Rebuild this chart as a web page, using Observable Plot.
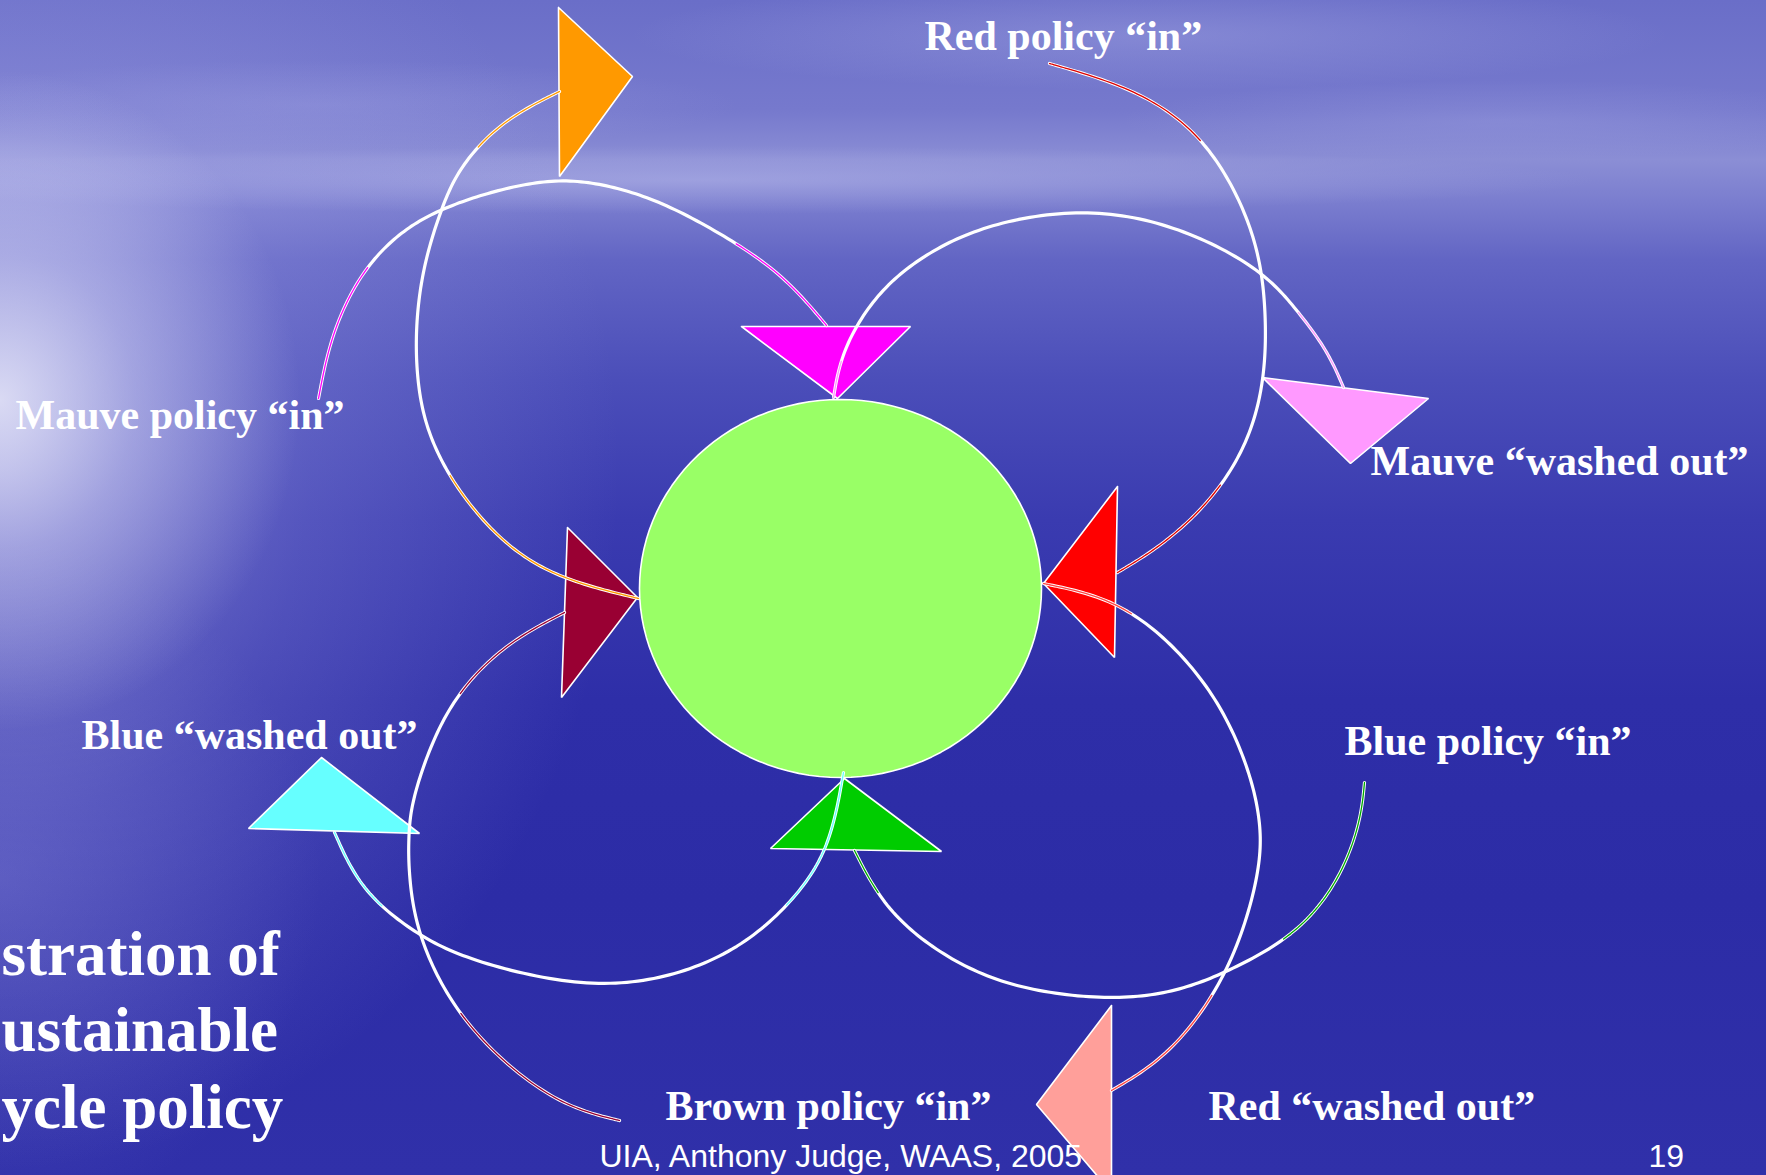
<!DOCTYPE html>
<html>
<head>
<meta charset="utf-8">
<script src="https://cdn.jsdelivr.net/npm/d3@7"></script>
<script src="https://cdn.jsdelivr.net/npm/@observablehq/plot@0.6"></script>
<style>
html, body { margin: 0; padding: 0; overflow: hidden; background: #2d2da7; }
#chart {
  width: 1766px; height: 1175px; position: relative;
  background:
    radial-gradient(ellipse 300px 330px at 0px 400px, rgba(248,248,255,0.75) 0%, rgba(225,225,250,0.42) 45%, rgba(190,190,240,0) 100%),
    radial-gradient(ellipse 620px 700px at 0px 470px, rgba(195,195,242,0.50) 0%, rgba(165,165,232,0.25) 50%, rgba(140,140,220,0) 100%),
    radial-gradient(ellipse 320px 340px at 0px 880px, rgba(120,120,210,0.40) 0%, rgba(120,120,210,0) 100%),
    radial-gradient(ellipse 900px 34px at 700px 180px, rgba(190,192,238,0.45) 0%, rgba(190,192,238,0) 100%),
    radial-gradient(ellipse 520px 55px at 1150px 35px, rgba(175,178,232,0.35) 0%, rgba(175,178,232,0) 100%),
    radial-gradient(ellipse 420px 45px at 320px 105px, rgba(165,168,228,0.30) 0%, rgba(165,168,228,0) 100%),
    radial-gradient(ellipse 380px 40px at 1500px 120px, rgba(165,168,228,0.28) 0%, rgba(165,168,228,0) 100%),
    linear-gradient(180deg, #6a6ec8 0px, #7679cd 110px, #8b8ed5 160px, #7b7ecf 200px, #6265c4 260px, #4b4eb9 380px, #3a3bb0 520px, #2e2ea8 700px, #2c2ca6 900px, #3030a9 1175px);
}
#chart svg { display: block; }
</style>
</head>
<body>
<div id="chart"></div>
<script>
// ---- Curves: guide points (slide pixel space) ----
const arcMauveIn  = [[318,398],[330,335],[359,273],[398,232],[440,208],[497,189],[559,177],[617,186],[675,207],[754,253],[794,287],[826,325]];
const arcOrange   = [[559,91],[501,120],[458,167],[440,210],[422,267],[414,333],[418,400],[434,450],[464,500],[510,550],[564,580],[638,598]];
const arcBrownIn  = [[619,1120],[566,1107],[507,1067],[451,1007],[416,933],[408,873],[408,835],[411,800],[434,733],[464,683],[510,640],[564,612]];
const arcCyan     = [[334,832],[360,890],[414,933],[467,960],[578,987],[665,980],[744,947],[803,890],[831,840],[843,772]];
const arcBlueIn   = [[854,850],[883,907],[937,953],[1007,987],[1103,1000],[1173,993],[1231,970],[1298,933],[1339,880],[1360,823],[1364,782]];
const arcRedOut   = [[1043,583],[1110,597],[1167,637],[1217,697],[1247,763],[1261,820],[1260,873],[1231,970],[1173,1053],[1111,1090]];
const arcRedIn    = [[1049,63],[1132,87],[1194,127],[1235,187],[1260,253],[1266,320],[1264,377],[1252,430],[1226,480],[1188,523],[1149,553],[1117,572]];
const arcMauveOut = [[833,397],[841,350],[875,293],[924,253],[987,223],[1082,207],[1173,223],[1260,267],[1297,310],[1327,350],[1343,387]];

const arcList  = [arcMauveIn, arcOrange, arcBrownIn, arcCyan, arcBlueIn, arcRedOut, arcRedIn, arcMauveOut];
const arcTint  = ["#ff00ff", "#ff9900", "#990033", "#66ffff", "#00aa00", "#ff4444", "#dd0000", "#ff99ff"];
const arcHead  = [0.25, 0.20, 0.30, 0.22, 0.15, 0.22, 0.25, 0.15];
const arcTail  = [0.25, 0.35, 0.25, 0.30, 0.35, 0.25, 0.30, 0.25];

// ---- Triangles ----
const triOrange  = [[558,7],[632,76],[559,176]];
const triMagenta = [[741,326],[910,326],[837,398]];
const triPink    = [[1262,377],[1428,398],[1350,463]];
const triRed     = [[1117,486],[1043,583],[1114,657]];
const triMaroon  = [[567,527],[637,597],[561,697]];
const triCyan    = [[321,757],[419,833],[248,828]];
const triGreen   = [[844,778],[941,851],[770,848]];
const triSalmon  = [[1111,1005],[1036,1104],[1111,1192]];
const triList  = [triOrange, triMagenta, triPink, triRed, triMaroon, triCyan, triGreen, triSalmon];
const triFill  = ["#ff9900", "#ff00ff", "#ff99ff", "#ff0000", "#990033", "#66ffff", "#00cc00", "#ff9f9a"];

// ---- Central ellipse ----
const hubCenter = [840, 588];
const hubRadii  = [201, 189];
const hubFill   = "#99ff66";

// ---- Labels ----
const labelText = ["Red policy \u201Cin\u201D", "Mauve policy \u201Cin\u201D", "Mauve \u201Cwashed out\u201D", "Blue \u201Cwashed out\u201D", "Blue policy \u201Cin\u201D", "Brown policy \u201Cin\u201D", "Red \u201Cwashed out\u201D"];
const labelX    = [924, 15, 1370, 81, 1344, 665, 1208];
const labelY    = [49, 428, 474, 748, 754, 1119, 1119];

const titleLines = ["stration of", "ustainable", "ycle policy"];
const titleX     = [1, 1, 1];
const titleBase  = [974, 1050, 1127];

const footerText = ["UIA, Anthony Judge, WAAS, 2005", "19"];
const footerX    = [599, 1648];
const footerY    = [1166, 1166];

// ---- Smooth each guide polyline with a clamped uniform cubic B-spline ----
function bspline(pts, perSeg = 16) {
  const c = [pts[0], pts[0], ...pts, pts[pts.length - 1], pts[pts.length - 1]];
  const out = [];
  for (let i = 0; i + 3 < c.length; i++) {
    const [p0, p1, p2, p3] = [c[i], c[i + 1], c[i + 2], c[i + 3]];
    for (let k = 0; k < perSeg; k++) {
      const t = k / perSeg, t2 = t * t, t3 = t2 * t;
      const b0 = (1 - t) ** 3 / 6, b1 = (3 * t3 - 6 * t2 + 4) / 6, b2 = (-3 * t3 + 3 * t2 + 3 * t + 1) / 6, b3 = t3 / 6;
      out.push([b0 * p0[0] + b1 * p1[0] + b2 * p2[0] + b3 * p3[0], b0 * p0[1] + b1 * p1[1] + b2 * p2[1] + b3 * p3[1]]);
    }
  }
  out.push(pts[pts.length - 1]);
  return out;
}

const smooth = arcList.map(p => bspline(p));
const arcRows = smooth.flatMap((pts, i) => pts.map(([x, y]) => ({id: "arc" + i, x, y})));
const tintRows = smooth.flatMap((pts, i) => {
  const n = pts.length;
  const h = Math.round(n * arcHead[i]), t = Math.round(n * arcTail[i]);
  const head = pts.slice(0, h).map(([x, y]) => ({id: "h" + i, x, y, c: arcTint[i]}));
  const tail = pts.slice(n - t).map(([x, y]) => ({id: "t" + i, x, y, c: arcTint[i]}));
  return head.concat(tail);
});
const triRows = triList.flatMap((pts, i) => pts.concat([pts[0]]).map(([x, y]) => ({id: "tri" + i, x, y})));
const hubRows = d3.range(0, 121).map(k => {
  const a = (k / 120) * 2 * Math.PI;
  return {x: hubCenter[0] + hubRadii[0] * Math.cos(a), y: hubCenter[1] + hubRadii[1] * Math.sin(a)};
});
const labelRows = labelText.map((t, i) => ({t, x: labelX[i], y: labelY[i]}));
const titleRows = titleLines.map((t, i) => ({t, x: titleX[i], y: titleBase[i]}));
const footerRows = footerText.map((t, i) => ({t, x: footerX[i], y: footerY[i]}));

const serif = "'Liberation Serif', 'Times New Roman', serif";

const plot = Plot.plot({
  width: 1766,
  height: 1175,
  margin: 0,
  style: {background: "transparent"},
  x: {domain: [0, 1766], range: [0, 1766], axis: null},
  y: {domain: [0, 1175], range: [0, 1175], axis: null},
  color: {type: "identity"},
  marks: [
    ...triList.map((pts, i) => Plot.line(triRows.filter(d => d.id === "tri" + i), {
      x: "x", y: "y", fill: triFill[i], stroke: "white", strokeWidth: 1.6, strokeLinejoin: "miter"
    })),
    Plot.line(hubRows, {x: "x", y: "y", fill: hubFill, stroke: "white", strokeWidth: 1.6}),
    Plot.line(arcRows, {x: "x", y: "y", z: "id", stroke: "white", strokeWidth: 3.2}),
    Plot.line(tintRows, {x: "x", y: "y", z: "id", stroke: "c", strokeWidth: 1.3}),
    Plot.text(labelRows, {x: "x", y: "y", text: "t", textAnchor: "start", lineAnchor: "bottom",
      fill: "white", fontSize: 42, fontWeight: "bold", fontFamily: serif}),
    Plot.text(titleRows, {x: "x", y: "y", text: "t", textAnchor: "start", lineAnchor: "bottom",
      fill: "white", fontSize: 63, fontWeight: "bold", fontFamily: serif}),
    Plot.text(footerRows, {x: "x", y: "y", text: "t", textAnchor: "start", lineAnchor: "bottom",
      fill: "white", fontSize: 32, fontFamily: "'Liberation Sans', Arial, sans-serif"})
  ]
});
document.getElementById("chart").appendChild(plot);
</script>
</body>
</html>
